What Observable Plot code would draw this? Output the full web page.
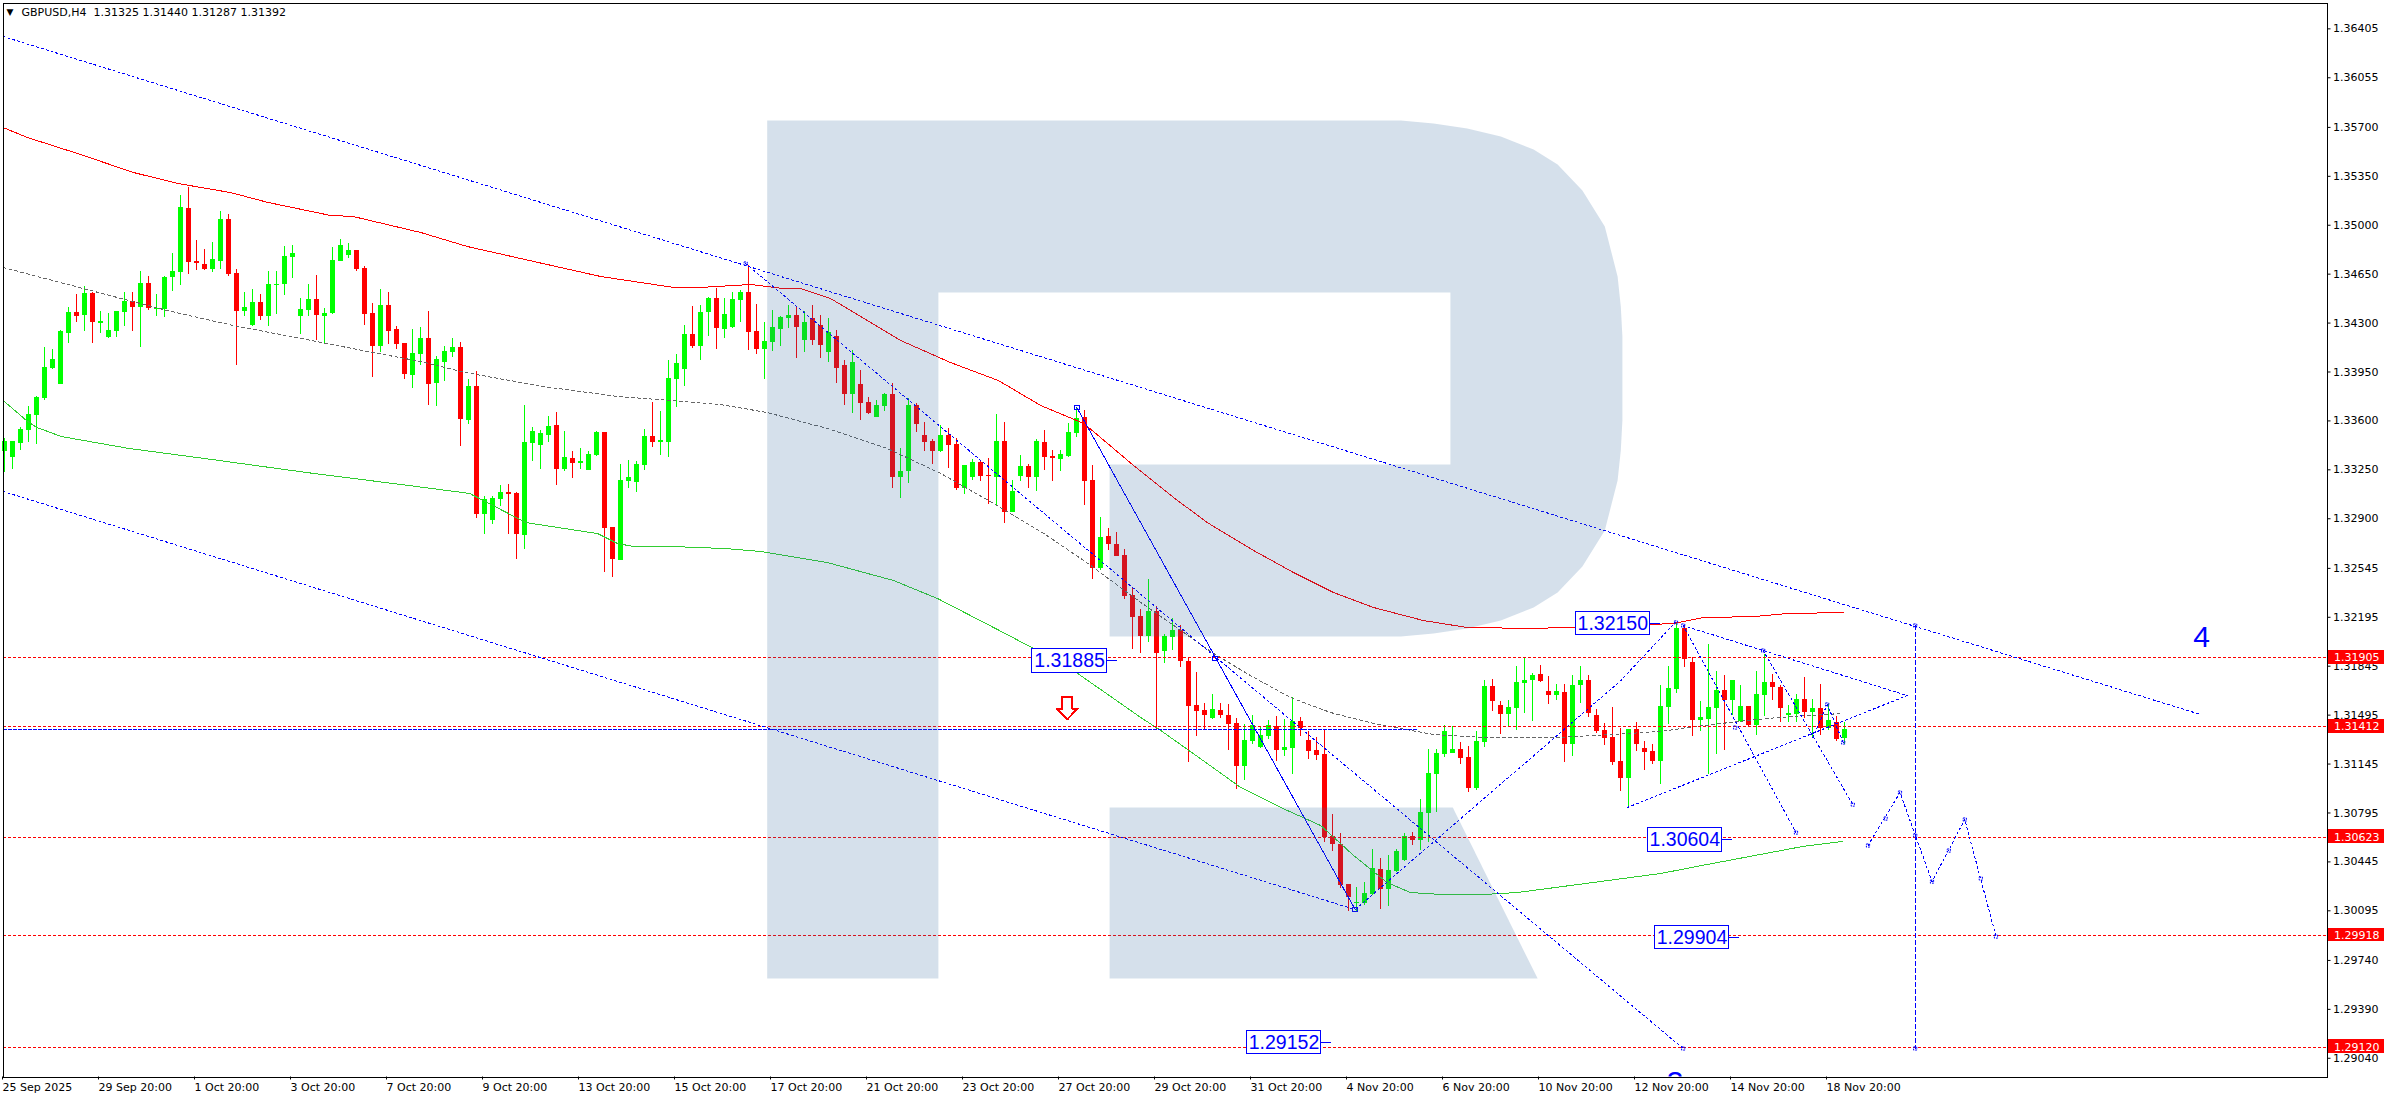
<!DOCTYPE html>
<html><head><meta charset="utf-8">
<style>html,body{margin:0;padding:0;background:#fff}svg{display:block}</style>
<script src="https://cdn.jsdelivr.net/npm/d3@7"></script>
<script src="https://cdn.jsdelivr.net/npm/@observablehq/plot@0.6"></script>
</head><body><div id="chart"></div>
<script>
// All prices are in points: 35277 means 1.35277. Candles are numbered by bar, 4 hours apart.
const candleDirection="UUUUUUUUUD UDUUUUDUDU UUUDDDUUDD UUDUUUUUUD UUUUDDDUDD DUUDUUUDUD UUUDDUUUUD UDUUUDDUUU UDUUUUDUUD UUUDDUUUUD UDDUDDUDDU UDUUDDDUDD UUDDUDUUDU DDUUUDDUDD DDDUDUUDDD DUDDDUUUUD UUDDDDDDDU UUDUUUDUUU UUDDUUDDUU UUDDUDUUDD DDDUDDDUUU DDUUUDUUDU UDDUUDUDUD U".replace(/ /g,"");
const highs=[33474,33453,33553,33703,33775,34125,34111,34247,34411,34504,
34562,34519,34383,34369,34383,34519,34519,34669,34633,34504,
34633,34798,35213,35270,34891,34827,34877,35099,35077,34684,
34519,34541,34504,34669,34669,34848,34855,34476,34576,34640,
34404,34841,34898,34870,34819,34705,34440,34541,34519,34275,
34154,34254,34268,34383,34061,34132,34190,34161,33897,33954,
33059,33059,33138,33145,33088,33710,33553,33531,33631,33660,
33524,33381,33403,33381,33524,33517,32837,33288,33317,33310,
33539,33732,33667,34032,34075,34282,34418,34425,34483,34548,
34476,34519,34533,34712,34432,34304,34390,34347,34425,34411,
34383,34425,34354,34333,34247,34032,34104,33961,33768,33746,
33796,33868,33403,33761,33725,33589,33467,33567,33546,33474,
33281,33324,33317,33331,33645,33589,33174,33352,33288,33467,
33531,33388,33388,33581,33696,33674,33281,32909,32830,32802,
32680,32408,32250,32465,32272,32072,32186,32136,31900,31800,
31578,31642,31578,31571,31471,31427,31492,31413,31456,31485,
31464,31621,31478,31378,31335,31392,30784,30648,30283,30262,
30298,30534,30469,30491,30534,30648,30655,30891,31249,31249,
31420,31413,31299,31270,31378,31742,31749,31593,31600,31843,
31907,31792,31850,31771,31713,31713,31778,31843,31778,31535,
31435,31550,31399,31392,31442,31306,31284,31706,31843,32158,
32136,31907,31593,32000,31807,31778,31742,31706,31557,31807,
31929,31785,31706,31564,31642,31764,31607,31713,31571,31485,
31440];
const bodyTops=[33453,33453,33539,33645,33768,33982,34040,34240,34376,34376,
34512,34512,34311,34247,34383,34454,34454,34584,34584,34404,
34626,34669,35127,35120,34741,34719,34755,35042,35042,34655,
34411,34447,34447,34576,34576,34776,34798,34397,34469,34469,
34369,34748,34855,34819,34819,34691,34369,34425,34425,34254,
34154,34083,34190,34190,34040,34097,34125,34125,33846,33846,
33038,33045,33088,33088,33081,33446,33524,33510,33560,33567,
33338,33331,33310,33359,33517,33517,32837,33174,33195,33288,
33488,33488,33460,33904,34011,34218,34218,34376,34476,34476,
34361,34469,34519,34519,34240,34168,34268,34340,34354,34354,
34304,34333,34282,34233,34204,33996,34018,33860,33732,33710,
33789,33789,33238,33710,33710,33495,33453,33495,33495,33431,
33281,33303,33303,33209,33453,33453,33095,33274,33274,33453,
33446,33345,33359,33517,33617,33624,33174,32766,32773,32716,
32637,32350,32200,32236,32236,32057,32100,32100,31878,31564,
31528,31535,31528,31492,31435,31313,31420,31349,31420,31413,
31263,31449,31449,31313,31242,31213,30626,30569,30283,30154,
30219,30398,30390,30383,30519,30626,30626,30798,31077,31220,
31378,31249,31249,31192,31306,31699,31699,31564,31550,31728,
31742,31778,31785,31664,31664,31657,31706,31742,31742,31492,
31385,31335,31163,31392,31392,31256,31235,31557,31685,32114,
32114,31871,31478,31550,31671,31671,31742,31557,31557,31642,
31728,31728,31692,31507,31607,31607,31542,31542,31456,31442,
31392];
const bodyBottoms=[33381,33338,33439,33531,33638,33761,33975,33860,34226,34347,
34354,34304,34297,34197,34240,34376,34411,34411,34404,34397,
34397,34626,34662,34734,34727,34684,34684,34741,34647,34383,
34383,34282,34347,34347,34569,34576,34769,34347,34390,34354,
34347,34369,34741,34783,34684,34361,34132,34132,34240,34146,
33932,33925,34075,33860,33868,34018,34090,33610,33603,32930,
32930,32887,33038,33073,32787,32780,33439,33424,33495,33253,
33253,33296,33296,33245,33352,32830,32609,32601,33167,33160,
33281,33446,33446,33446,33897,33968,34132,34132,34376,34261,
34254,34268,34461,34233,34111,34111,34161,34254,34333,34268,
34175,34175,34140,34090,33975,33789,33789,33725,33653,33624,
33703,33195,33195,33238,33574,33446,33381,33381,33424,33117,
33117,33195,33202,33202,33195,32945,32945,33202,33195,33195,
33338,33331,33324,33345,33510,33167,32544,32544,32716,32630,
32343,32193,32057,32057,31936,31950,32050,31878,31557,31521,
31492,31471,31492,31427,31127,31127,31306,31263,31342,31242,
31242,31256,31399,31235,31206,30619,30569,30276,30190,30147,
30147,30211,30247,30247,30376,30455,30598,30598,30791,31070,
31213,31220,31185,30970,30970,31299,31593,31499,31499,31542,
31721,31742,31735,31635,31635,31284,31284,31706,31507,31378,
31327,31156,31041,31041,31284,31228,31163,31163,31550,31678,
31892,31456,31456,31464,31542,31600,31600,31449,31420,31420,
31635,31692,31542,31492,31499,31514,31514,31399,31399,31320,
31325];
const lows=[33231,33253,33388,33446,33431,33746,33968,33860,34154,34304,
34240,34154,34226,34190,34197,34275,34240,34125,34390,34347,
34340,34526,34569,34647,34676,34676,34662,34684,34633,33996,
34347,34275,34318,34275,34361,34497,34619,34218,34347,34175,
34146,34361,34741,34762,34669,34282,33911,34090,34146,34111,
33897,33832,33996,33710,33703,33882,34054,33417,33574,32902,
32787,32858,32987,32787,32609,32680,33310,33253,33446,33138,
33238,33188,33253,33245,33345,32516,32480,32601,33117,33088,
33245,33410,33352,33338,33696,33846,34118,34032,34204,34111,
34190,34261,34304,34104,34075,33897,34097,34132,34261,34047,
34090,34140,34047,34018,33868,33710,33653,33603,33645,33624,
33667,33117,33045,33152,33517,33381,33288,33374,33260,33102,
33073,33174,33167,33001,32987,32866,32945,33167,33117,33095,
33245,33167,33238,33338,33481,32994,32465,32530,32673,32630,
32322,31964,31936,32014,31392,31864,31957,31835,31156,31342,
31385,31464,31471,31242,30963,31027,31284,31256,31320,31163,
31199,31070,31342,31177,31170,30584,30519,30255,30090,30090,
30132,30204,30104,30125,30369,30448,30562,30526,30584,30798,
31192,31220,31142,30941,30956,31263,31521,31356,31413,31385,
31507,31449,31728,31571,31600,31156,31199,31578,31478,31363,
31277,31134,30949,30834,31235,31099,31142,30999,31427,31650,
31835,31342,31378,31070,31213,31242,31492,31442,31406,31349,
31485,31600,31442,31442,31442,31471,31335,31349,31385,31306,
31287];

const redMaBars=[-0.1,2.9,9.2,16.2,21.7,28.3,33,40.8,43.6,52.1,57.9,66.2,74.6,83.7,87.1,93.3,97.4,99.6,103.3,107.1,112.1,118.3,124.3,129.6,135,141.2,146.2,150.4,156.2,161.2,166.2,171.2,177.4,182.9,191.2,205.8,208.7,212.4,218.7,222.9,229.9];
const redMaPrices=[35699,35628,35513,35377,35299,35234,35163,35070,35063,34948,34848,34741,34633,34555,34555,34576,34547,34547,34476,34347,34175,34018,33889,33710,33581,33281,33052,32873,32673,32515,32372,32265,32172,32122,32115,32143,32151,32193,32200,32222,32229];
const grayMaBars=[-0.1,9.9,20.4,28.7,37.1,45.4,52.1,57.7,67.4,76.7,83.3,89.6,95.4,102.9,110.4,117.1,123.7,130,135.5,142.1,151.2,155.8,160.8,165.8,171.2,178.7,185,194.2,198.7,207.1,210.4,216.7,221.7,229.8];
const grayMaPrices=[34698,34547,34390,34282,34190,34097,34025,33946,33846,33775,33746,33717,33660,33546,33403,33224,33009,32794,32580,32301,31936,31778,31621,31514,31435,31356,31335,31335,31349,31378,31406,31449,31478,31507];
const greenMaBars=[-0.1,2.8,4.1,7.2,15.6,25.1,37.8,50.6,58.2,63.3,65.2,74.2,76.7,78.7,83.7,90.1,94.6,102.9,111.2,116.7,123.7,128.7,134.2,138.7,142.1,144.6,150.4,154.6,159.6,164.6,168.7,172.9,175.8,179.6,185,189.2,199.6,207.1,212.2,224.8,229.8];
const greenMaPrices=[33746,33603,33553,33488,33403,33331,33231,33138,33081,32930,32873,32794,32723,32701,32701,32687,32666,32587,32458,32329,32122,31972,31793,31614,31478,31385,31149,30977,30834,30705,30491,30297,30226,30212,30212,30226,30305,30362,30419,30555,30591];

// Blue analysis lines: [bars], [prices]
const upperChannel=[[-0.1,274.6],[36350,31499]];
const lowerChannel=[[-0.1,168.9],[33095,30104]];
const fallToTarget=[[92.7,209.9],[34726,29110]];
const riseFromLow=[[168.9,202.1,208.9],[30104,31742,32158]];
const triangleLower=[[202.9,237.9],[30834,31635]];
const triangleUpper=[[209.9,237.9],[32136,31635]];
const waveA=[[209.9,224],[32136,30655]];
const waveB=[[219.9,231.1],[31957,30855]];
const zigzag=[[226.1,227.9,229.9],[31335,31571,31299]];
const forecast=[[233,237,241,245.1,249],[30562,30941,30304,30748,29911]];
const targetDrop=[[238.9,238.9],[32136,29110]];
const solidFall=[[134.1,168.9],[33696,30104]];
const bidLine=[[-0.1,176.7],[31391,31391]];
const smallAnchorBars=[92.7,209,209.9,216.4,219.9,227.9,229.9,224,231.1,238.9,238.9,233,235.2,237,238.9,241,243.1,245.1,247.1,249,209.9];
const smallAnchorPrices=[34726,32158,32136,31406,31957,31571,31299,30655,30855,32136,29110,30562,30755,30941,30634,30304,30526,30748,30326,29911,29110];
const largeAnchorBars=[134.1,168.9,151.4];
const largeAnchorPrices=[33696,30104,31900];
const sellArrowBars=[132.3,133.5,133.5,134.2,132.9,131.6,132.3,132.3];
const sellArrowPrices=[31628,31628,31542,31542,31464,31542,31542,31628];

const levelPrices=[1.31905,1.31412,1.30623,1.29918,1.29120];
const targetLabels=[1.31885,1.32150,1.30604,1.29904,1.29152];
const targetLabelBars=[133.2,201.1,210.1,211,160];

const priceTicks=[1.36405,1.36055,1.35700,1.35350,1.35000,1.34650,1.34300,1.33950,1.33600,1.33250,1.32900,1.32545,1.32195,1.31845,1.31495,1.31145,1.30795,1.30445,1.30095,1.29740,1.29390,1.29040];
const timeTicks=[0,12,24,36,48,60,72,84,96,108,120,132,144,156,168,180,192,204,216,228];
const timeLabels=["25 Sep 2025","29 Sep 20:00","1 Oct 20:00","3 Oct 20:00","7 Oct 20:00","9 Oct 20:00","13 Oct 20:00","15 Oct 20:00","17 Oct 20:00","21 Oct 20:00","23 Oct 20:00","27 Oct 20:00","29 Oct 20:00","31 Oct 20:00","4 Nov 20:00","6 Nov 20:00","10 Nov 20:00","12 Nov 20:00","14 Nov 20:00","18 Nov 20:00"];

// Watermark letter R, traced in bar / price units
const logoBowlBars=[95.4,174.6,178.7,182.9,187.1,191.2,194.2,197.3,200.1,201.7,202.1,202.3,202.3,202.1,201.7,200.1,197.3,194.2,191.2,187.1,182.9,178.7,174.6,138.2,138.2,180.8,180.8,116.8,116.8,95.4];
const logoBowlPrices=[35749,35749,35728,35692,35635,35542,35435,35249,34991,34633,34419,34204,33603,33388,33174,32816,32558,32372,32265,32172,32115,32079,32057,32057,33288,33288,34519,34519,29610,29610];
const logoLegBars=[138.2,181.1,191.7,138.2];
const logoLegPrices=[30834,30834,29610,29610];

const price=n=>1+n/1e5;
const candles=highs.map((h,i)=>{
  const up=candleDirection[i]==="U";
  return {bar:i,high:price(h),low:price(lows[i]),open:price(up?bodyBottoms[i]:bodyTops[i]),close:price(up?bodyTops[i]:bodyBottoms[i]),color:up?"#00ff00":"#ff0000"};
});
const path=(s)=>s[0].map((b,i)=>({b,p:price(s[1][i])}));
const crisp={shapeRendering:"crispEdges"};
const dotted=s=>Plot.line(path(s),{x:"b",y:"p",stroke:"#0000ff",strokeWidth:1,strokeDasharray:"2,3",...crisp});
const FONT="DejaVu Sans";

const chart=Plot.plot({
  width:2390,height:1100,
  marginLeft:2.5,marginRight:63.5,marginTop:2.5,marginBottom:23.5,
  style:{background:"#fff",fontFamily:FONT,fontSize:"11px",color:"#000"},
  x:{domain:[-0.125,290.375],axis:null},
  y:{domain:[1.28906,1.36590],axis:null},
  marks:[
    Plot.ruleX(candles,{x:"bar",y1:"low",y2:"high",stroke:"color",strokeWidth:1,...crisp}),
    Plot.ruleX(candles,{x:"bar",y1:"open",y2:"close",stroke:"color",strokeWidth:5,...crisp}),
    Plot.line(path([redMaBars,redMaPrices]),{x:"b",y:"p",stroke:"#ff0000",strokeWidth:1,...crisp}),
    Plot.line(path([greenMaBars,greenMaPrices]),{x:"b",y:"p",stroke:"#32cd32",strokeWidth:1,...crisp}),
    Plot.line(path([grayMaBars,grayMaPrices]),{x:"b",y:"p",stroke:"#666",strokeWidth:1,strokeDasharray:"3,3",...crisp}),
    Plot.ruleY(levelPrices,{stroke:"#ff0000",strokeWidth:1,strokeDasharray:"3,2",...crisp}),
    Plot.line(path(bidLine),{x:"b",y:"p",stroke:"#0000ff",strokeWidth:1,strokeDasharray:"3,2",...crisp}),
    dotted(upperChannel),dotted(lowerChannel),dotted(fallToTarget),dotted(riseFromLow),
    dotted(triangleLower),dotted(triangleUpper),dotted(waveA),dotted(waveB),dotted(zigzag),dotted(forecast),
    Plot.line(path(targetDrop),{x:"b",y:"p",stroke:"#0000ff",strokeWidth:1,strokeDasharray:"4,3",...crisp}),
    Plot.line(path(solidFall),{x:"b",y:"p",stroke:"#0000ff",strokeWidth:1,...crisp}),
    Plot.dot(path([smallAnchorBars,smallAnchorPrices]),{x:"b",y:"p",symbol:"square",r:1.8,stroke:"#0000ff",strokeWidth:1,fill:"none",strokeDasharray:"2,1"}),
    Plot.dot(path([largeAnchorBars,largeAnchorPrices]),{x:"b",y:"p",symbol:"square",r:2.6,stroke:"#0000ff",strokeWidth:1,fill:"none",...crisp}),
    Plot.line(path([sellArrowBars,sellArrowPrices]),{x:"b",y:"p",stroke:"#ff0000",strokeWidth:2,fill:"none",...crisp}),
    // watermark laid over the chart
    Plot.line(path([logoBowlBars,logoBowlPrices]),{x:"b",y:"p",fill:"#2d649b",fillOpacity:0.2,stroke:"none"}),
    Plot.line(path([logoLegBars,logoLegPrices]),{x:"b",y:"p",fill:"#2d649b",fillOpacity:0.2,stroke:"none"}),
    Plot.frame({stroke:"#000",strokeWidth:1,...crisp}),
    Plot.axisY(priceTicks,{anchor:"right",tickSize:3,tickPadding:3,tickFormat:d=>d.toFixed(5),label:null,fontFamily:FONT,fontSize:11,fill:"#000"}),
    Plot.axisX({ticks:timeTicks,anchor:"bottom",tickSize:3,tickPadding:3,tickFormat:d=>timeLabels[d/12],textAnchor:"start",dx:-1.5,label:null,fontFamily:FONT,fontSize:11,fill:"#000"}),
    // price tags
    Plot.rect(levelPrices,{x1:()=>290.6,x2:()=>297.6,y1:d=>d-0.00046,y2:d=>d+0.00054,fill:"#ff0000",...crisp}),
    Plot.text(levelPrices,{x:()=>291.25,y:d=>d,text:d=>d.toFixed(5),fill:"#fff",textAnchor:"start",fontSize:11,fontFamily:FONT}),
    // target labels
    Plot.link(targetLabels,{x1:(d,i)=>targetLabelBars[i],x2:(d,i)=>targetLabelBars[i]+5.9,y1:d=>d,y2:d=>d,stroke:"#0000ff",strokeWidth:1,...crisp}),
    Plot.rect(targetLabels,{x1:(d,i)=>targetLabelBars[i]-4.65,x2:(d,i)=>targetLabelBars[i]+4.65,y1:d=>d-0.00085,y2:d=>d+0.00085,fill:"#fff",stroke:"#0000ff",strokeWidth:1,...crisp}),
    Plot.text(targetLabels,{x:(d,i)=>targetLabelBars[i],y:d=>d,text:d=>d.toFixed(5),fill:"#0000ff",fontSize:19.5,fontFamily:"Liberation Sans"}),
    Plot.text(["4"],{x:()=>274.7,y:()=>1.32050,text:d=>d,fill:"#0000ff",fontSize:30,fontFamily:"Liberation Sans"}),
    Plot.text(["3"],{x:()=>208.9,y:()=>1.28952,text:d=>d,fill:"#0000ff",fontSize:30,lineAnchor:"top",clip:"frame",fontFamily:"Liberation Sans"}),
    // chart header
    Plot.text(["▼"],{frameAnchor:"top-left",dx:3.5,dy:9.5,text:d=>d,textAnchor:"start",lineAnchor:"middle",fill:"#000",fontSize:9}),
    Plot.text(["GBPUSD,H4"],{frameAnchor:"top-left",dx:18.5,dy:9.5,text:d=>d,textAnchor:"start",lineAnchor:"middle",fill:"#000",fontSize:11,fontFamily:FONT}),
    Plot.text(["1.31325 1.31440 1.31287 1.31392"],{frameAnchor:"top-left",dx:90.5,dy:9.5,text:d=>d,textAnchor:"start",lineAnchor:"middle",fill:"#000",fontSize:11,fontFamily:FONT})
  ]
});
document.getElementById("chart").append(chart);
</script>
</body></html>
